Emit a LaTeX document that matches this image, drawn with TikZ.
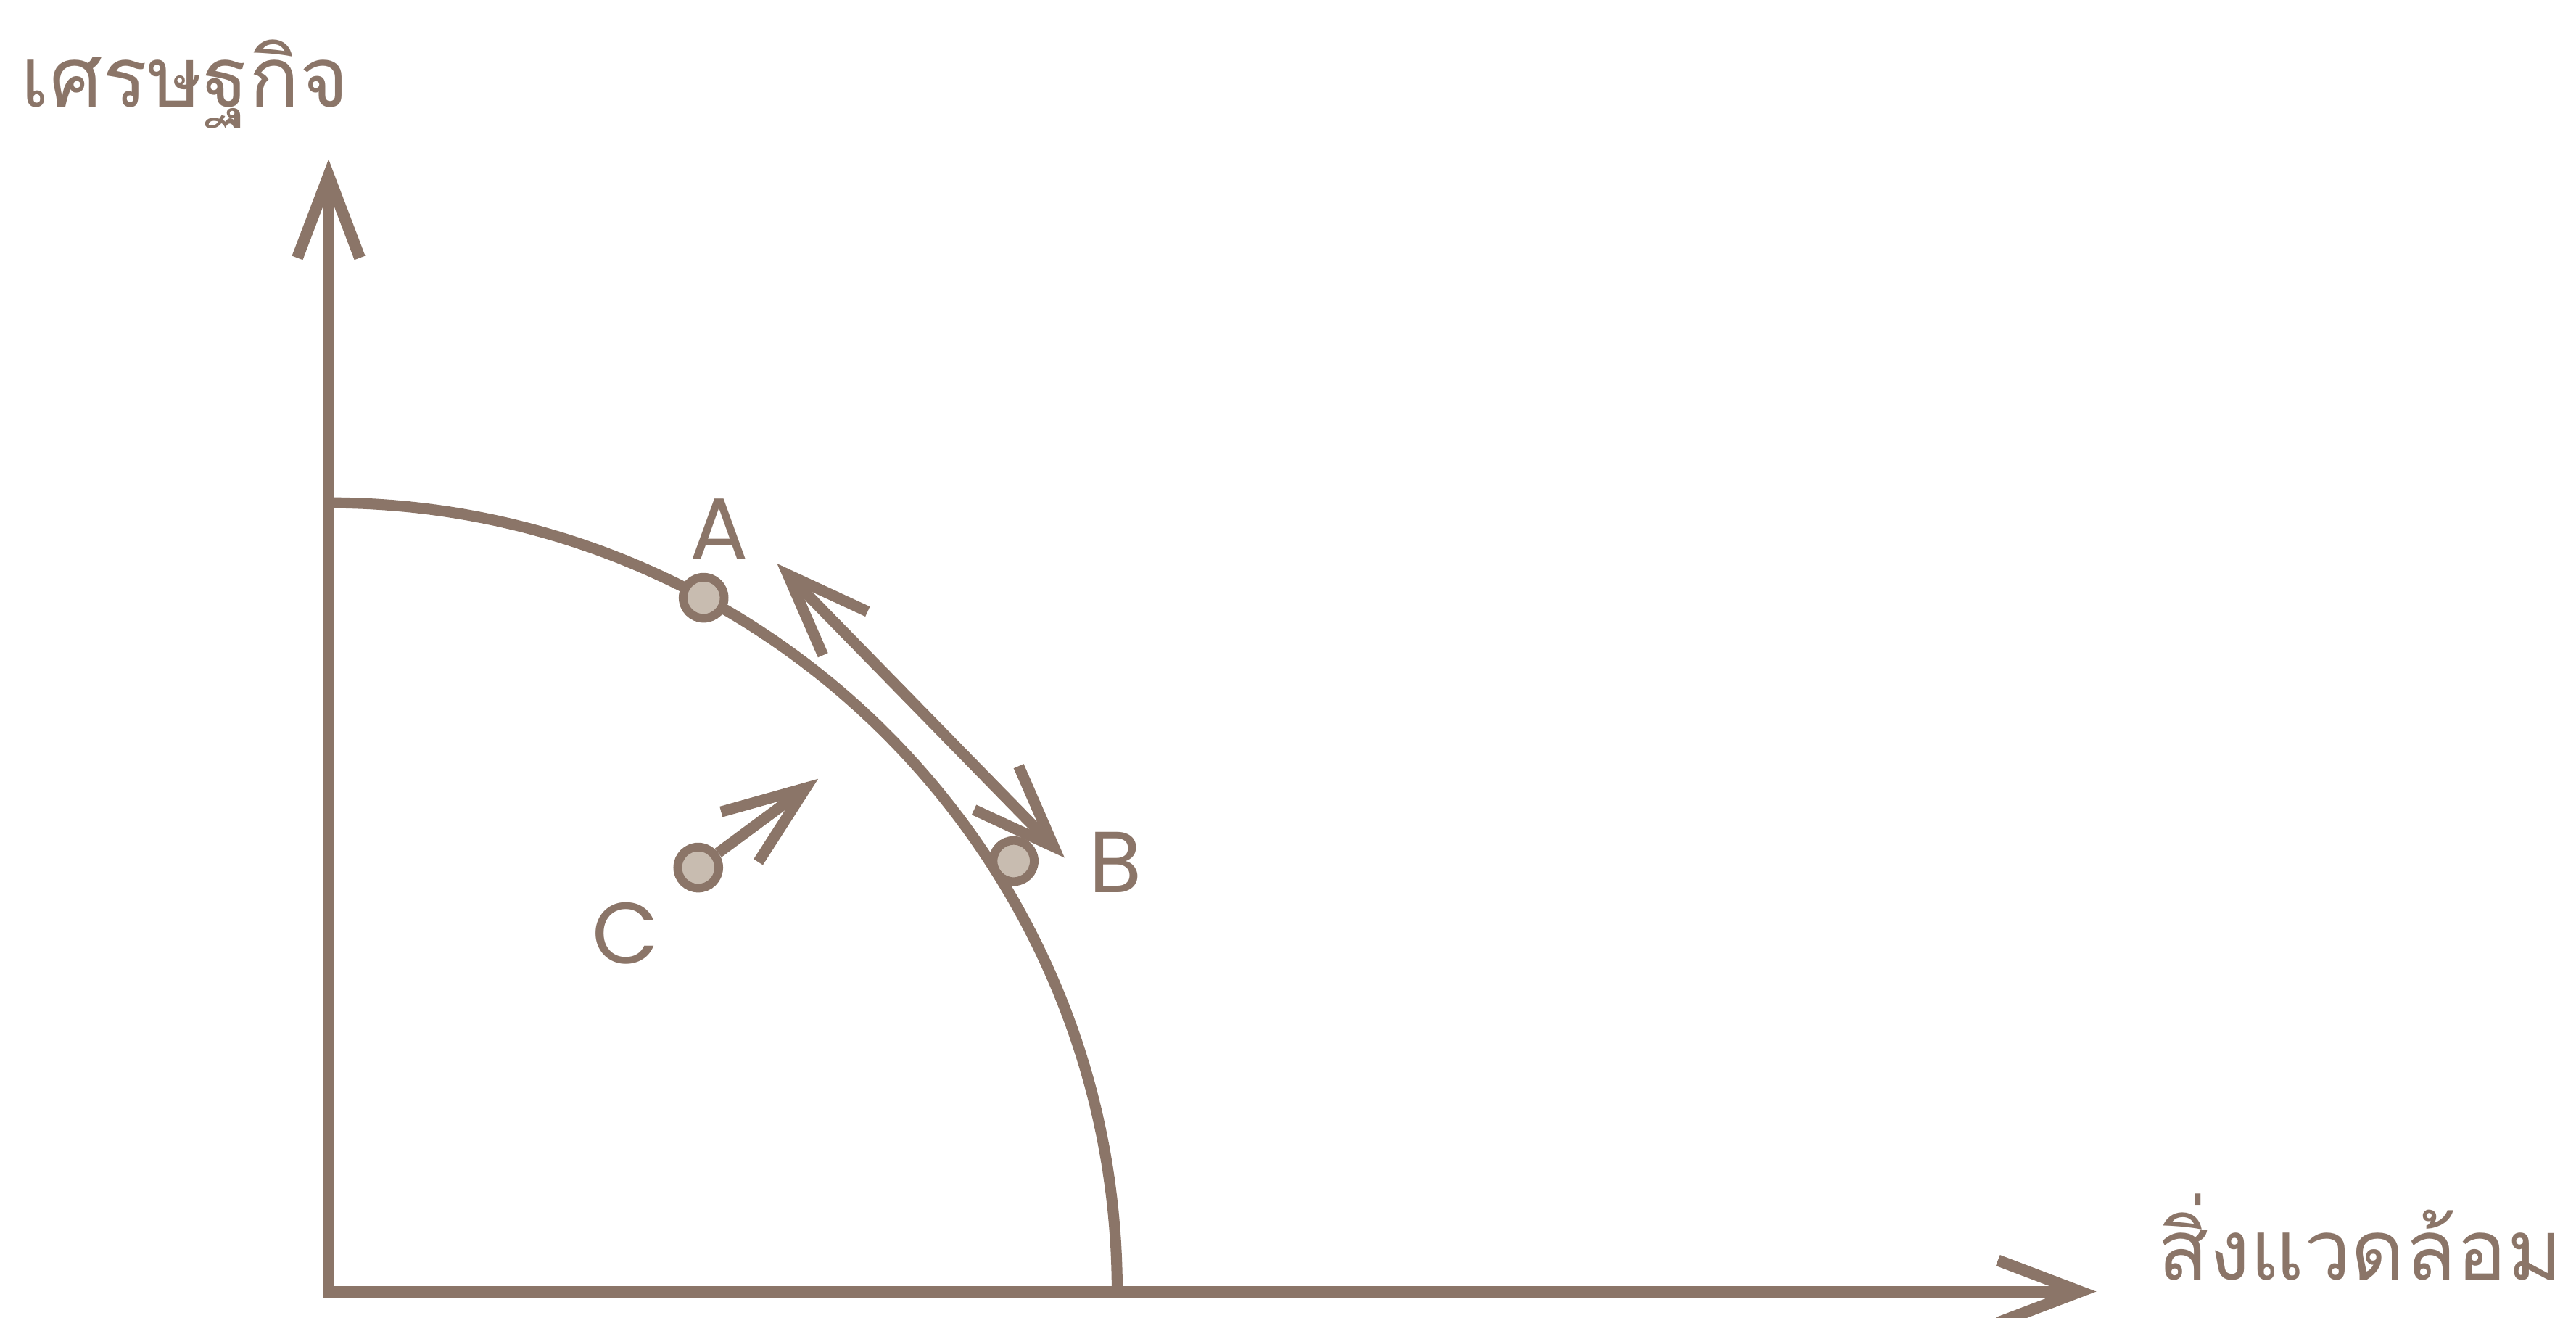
\documentclass[tikz,border=0pt]{standalone}
\usepackage{fontspec}
\setmainfont{Poppins}
\newfontfamily\thaifont[Script=Thai]{Loma}
\usetikzlibrary{arrows.meta}

\definecolor{ppfline}{RGB}{139,117,104}
\definecolor{ppfdot}{RGB}{200,188,176}

\tikzset{
  barb/.tip={Straight Barb[length=5mm,width=3.8mm]},
  axisline/.style={draw=ppfline,line width=2pt,barb-barb},
  curveline/.style={draw=ppfline,line width=1.9pt},
  twoway/.style={draw=ppfline,line width=1.9pt,barb-barb},
  oneway/.style={draw=ppfline,line width=1.9pt,-barb},
  ptdot/.style={circle,draw=ppfline,fill=ppfdot,line width=1.5pt,minimum size=0.25cm,inner sep=0pt},
  ptlabel/.style={text=ppfline,font=\fontsize{15}{18}\selectfont,inner sep=0pt},
  axistext/.style={text=ppfline,font=\thaifont\fontsize{14.5}{17}\selectfont,inner sep=0pt,anchor=base west}
}

\begin{document}
\begin{tikzpicture}
\useasboundingbox (-2.00,-0.16) rectangle (13.68,7.86);

% axes
\coordinate (O) at (0,0);
\coordinate (ytop) at (0,6.89);
\coordinate (xend) at (10.76,0);
\draw[axisline] (ytop) -- (O) -- (xend);
\node[axistext] (econ) at (-1.88,7.21) {เศรษฐกิจ};
\node[axistext] (env) at (11.13,0.07) {สิ่งแวดล้อม};

% frontier
\draw[curveline] (0,4.8) arc[start angle=90,end angle=0,radius=4.8];

% points
\node[ptdot] (a) at (61.6:4.8) {};
\node[ptdot] (b) at (4.17,2.62) {};
\node[ptdot] (c) at (2.25,2.58) {};
\node[ptlabel] (la) at (2.38,4.64) {A};
\node[ptlabel] (lb) at (4.79,2.61) {B};
\node[ptlabel] (lc) at (1.81,2.18) {C};

% moves
\coordinate (up) at (2.73,4.43);
\coordinate (down) at (4.48,2.64);
\draw[twoway] (up) -- (down);
\coordinate (cgo) at (2.98,3.12);
\draw[oneway] (c) -- (cgo);
\end{tikzpicture}
\end{document}
